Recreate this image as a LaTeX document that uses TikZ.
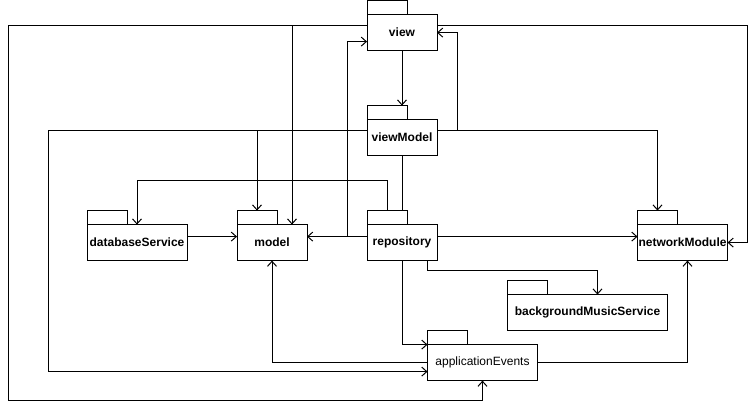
\documentclass[tikz,border=0pt]{standalone}
\usepackage{fontspec}
\setmainfont{Liberation Sans}
\usetikzlibrary{arrows.meta}

\begin{document}
\begin{tikzpicture}[x=1pt,y=-1pt,line width=1pt,
    >={Straight Barb[length=5pt,width=9pt]},
    pkg/.style={draw,minimum width=70pt,minimum height=36pt,inner sep=1pt,outer sep=0pt,
      font=\fontsize{12}{14}\selectfont\bfseries},
    pkgtab/.style={draw,minimum width=40pt,minimum height=14pt,inner sep=0pt,outer sep=0pt,
      anchor=south west}]
      \useasboundingbox (0,-0.6) rectangle (756,408.4);
      \node[pkg] (view) at (402,32) {view};
      \node[pkg] (viewModel) at (402,137) {viewModel};
      \node[pkg,minimum width=100pt] (databaseService) at (137,242) {databaseService};
      \node[pkg] (model) at (272,242) {model};
      \node[pkg] (repository) at (402,242) {repository};
      \node[pkg,minimum width=90pt] (networkModule) at (682.5,242) {networkModule};
      \node[pkg,minimum width=160pt] (backgroundMusicService) at (587.5,312) {backgroundMusicService};
      \node[pkg,minimum width=110pt,font=\fontsize{12}{14}\selectfont] (applicationEvents) at (482.5,362) {applicationEvents};
      \foreach \n in {view,viewModel,databaseService,model,repository,networkModule,backgroundMusicService,applicationEvents}
        \node[pkgtab] (\n-tab) at (\n.north west) {};
      %
      \draw[->] (view.south) -- (view.south |- viewModel-tab.north);
      \draw[->] ([yshift=7pt]view.west) -| ([xshift=20pt]model.north);
      \draw[->] ([yshift=7pt]view.west) -- ++(-359,0) -- ++(0,375) -| (applicationEvents.south);
      \draw[->] ([yshift=7pt]view.east) -- ++(310,0) |- (networkModule.east);
      %
      \draw[->] ([yshift=7pt]viewModel.east) -- ++(20,0) |- (view.east);
      \draw[->] ([yshift=7pt]viewModel.east) -| (networkModule-tab.north);
      \draw[->] ([yshift=7pt]viewModel.west) -| (model-tab.north);
      \draw[->] ([yshift=7pt]viewModel.west) -- ++(-319,0) |- ([yshift=-9pt]applicationEvents.west);
      \draw (viewModel.south) -- (repository-tab.north -| viewModel.south);
      %
      \draw[->] (repository-tab.north) -- ++(0,-30) -| (databaseService.north);
      \draw[->] ([yshift=6pt]repository.west) -- ([yshift=6pt]model.east);
      \draw[->] ([yshift=6pt]repository.west) -- ++(-20,0) |- ([yshift=-9pt]view.west);
      \draw[->] ([yshift=6pt]repository.east) -- ([yshift=6pt]networkModule.west);
      \draw[->] ([xshift=25pt]repository.south) -- ++(0,10) -| ([xshift=10pt]backgroundMusicService.north);
      \draw[->] (repository.south) |- ([yshift=18pt]applicationEvents.west);
      %
      \draw[->] ([yshift=6pt]databaseService.east) -- ([yshift=6pt]model.west);
      \draw[->] (applicationEvents.west) -| (model.south);
      \draw[->] (applicationEvents.east) -| ([xshift=5pt]networkModule.south);
    \end{tikzpicture}
\end{document}
